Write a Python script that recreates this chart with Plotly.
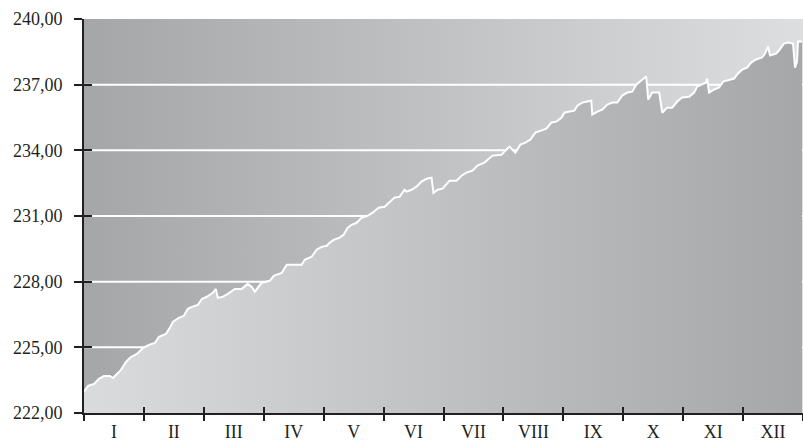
import plotly.graph_objects as go

months = ["I", "II", "III", "IV", "V", "VI", "VII", "VIII", "IX", "X", "XI", "XII"]

# position in months (0 = start of January, 12 = end of December)
t = [0.00, 0.067, 0.167, 0.25, 0.333, 0.433, 0.483, 0.533, 0.617, 0.70, 0.783, 0.883, 0.983,
     1.083, 1.183, 1.25, 1.367, 1.433, 1.483, 1.583, 1.667, 1.733, 1.80, 1.90, 1.967,
     2.05, 2.15, 2.20, 2.233, 2.317, 2.40, 2.517, 2.633, 2.733, 2.80, 2.85, 2.967,
     3.10, 3.167, 3.30, 3.383, 3.517, 3.633, 3.683, 3.80, 3.883, 3.967,
     4.05, 4.10, 4.167, 4.267, 4.333, 4.40, 4.467, 4.55, 4.633, 4.733, 4.817, 4.917,
     5.017, 5.10, 5.183, 5.267, 5.35, 5.383, 5.467, 5.55, 5.633, 5.717, 5.80, 5.833, 5.90, 5.983,
     6.05, 6.10, 6.217, 6.30, 6.383, 6.483, 6.567, 6.683, 6.817, 6.967,
     7.017, 7.10, 7.20, 7.283, 7.367, 7.45, 7.533, 7.633, 7.717, 7.80, 7.883, 7.967,
     8.017, 8.10, 8.183, 8.233, 8.317, 8.40, 8.467, 8.483, 8.567, 8.65, 8.733, 8.817, 8.90, 8.983,
     9.067, 9.15, 9.217, 9.30, 9.383, 9.417, 9.483, 9.60, 9.65, 9.733, 9.817, 9.90, 9.983,
     10.10, 10.183, 10.233, 10.317, 10.383, 10.40, 10.433, 10.517, 10.60, 10.667, 10.75, 10.85, 10.917, 10.983,
     11.067, 11.133, 11.217, 11.317, 11.367, 11.417, 11.45, 11.55, 11.60, 11.683, 11.75, 11.833, 11.867, 11.90, 11.917, 11.983]

values = [222.97, 223.24, 223.33, 223.56, 223.69, 223.69, 223.60, 223.74, 223.97, 224.33, 224.56, 224.70, 224.97,
          225.11, 225.20, 225.48, 225.61, 225.89, 226.16, 226.35, 226.44, 226.76, 226.85, 226.94, 227.21,
          227.31, 227.49, 227.67, 227.26, 227.31, 227.44, 227.67, 227.67, 227.90, 227.76, 227.54, 227.95,
          228.04, 228.27, 228.40, 228.77, 228.77, 228.77, 229.00, 229.14, 229.46, 229.59,
          229.64, 229.78, 229.91, 230.01, 230.14, 230.46, 230.60, 230.69, 230.92, 231.01, 231.15, 231.38,
          231.42, 231.65, 231.84, 231.88, 232.20, 232.11, 232.20, 232.34, 232.57, 232.70, 232.75, 232.06, 232.20, 232.25,
          232.43, 232.61, 232.61, 232.84, 232.98, 233.07, 233.30, 233.44, 233.76, 233.80,
          233.94, 234.17, 233.89, 234.26, 234.35, 234.49, 234.81, 234.90, 234.99, 235.27, 235.31, 235.49,
          235.72, 235.77, 235.81, 236.04, 236.18, 236.23, 236.27, 235.63, 235.77, 235.86, 236.09, 236.18, 236.18, 236.50,
          236.64, 236.68, 237.00, 237.19, 237.37, 236.32, 236.64, 236.64, 235.72, 235.95, 235.95, 236.23, 236.41,
          236.45, 236.64, 236.91, 237.00, 237.10, 237.28, 236.64, 236.78, 236.87, 237.14, 237.19, 237.28, 237.51, 237.69,
          237.78, 238.01, 238.15, 238.24, 238.42, 238.74, 238.33, 238.42, 238.56, 238.88, 238.93, 238.88, 237.78, 238.06, 238.97, 238.97]

y_ticks = [222, 225, 228, 231, 234, 237, 240]
y_range = [222, 240]
x_range = [0, 12]

ink = "#231f20"
font = dict(family="Liberation Serif, Times New Roman, serif", size=18, color=ink)


def fmt(v):
    return f"{v:.2f}".replace(".", ",")


fig = go.Figure()

# upper background (gradient dark -> light)
fig.add_trace(go.Scatter(
    x=x_range, y=[y_range[1]] * 2, mode="none", fill="tozeroy",
    fillgradient=dict(type="horizontal", colorscale=[[0, "#a5a6a8"], [1, "#dddedf"]]),
    hoverinfo="skip", showlegend=False))

# white grid lines (hidden below the data fill)
gx, gy = [], []
for v in y_ticks[1:-1]:
    gx += [x_range[0], x_range[1], None]
    gy += [v, v, None]
fig.add_trace(go.Scatter(x=gx, y=gy, mode="lines", line=dict(color="white", width=2),
                         hoverinfo="skip", showlegend=False))

# data with lower gradient fill (light -> dark)
fig.add_trace(go.Scatter(
    x=t, y=values, mode="lines", line=dict(color="white", width=2),
    fill="tozeroy",
    fillgradient=dict(type="horizontal", colorscale=[[0, "#dadbdd"], [1, "#a6a7a9"]]),
    showlegend=False))

# invisible anchors so the overlay axes (labels, inner tick halves) are drawn
for xa, ya in (("x2", "y"), ("x3", "y"), ("x", "y2")):
    fig.add_trace(go.Scatter(x=x_range, y=y_range, xaxis=xa, yaxis=ya, mode="markers",
                             marker=dict(opacity=0, size=1), hoverinfo="skip",
                             showlegend=False))

common = dict(showgrid=False, zeroline=False, fixedrange=True, automargin=False)

fig.update_layout(
    width=803, height=443,
    margin=dict(l=84, r=0, t=19, b=30, autoexpand=False),
    paper_bgcolor="white", plot_bgcolor="white",
    font=font,
    xaxis=dict(range=x_range, tickvals=list(range(13)), ticks="outside", ticklen=6,
               tickwidth=2, tickcolor=ink, showticklabels=False, showline=True,
               linewidth=2, linecolor=ink, **common),
    xaxis2=dict(overlaying="x", anchor="y", side="bottom", range=x_range,
                tickvals=[i + 0.5 for i in range(12)], ticktext=months, ticks="",
                showline=False, tickfont=font, ticklabelstandoff=6, **common),
    xaxis3=dict(overlaying="x", anchor="y", side="bottom", range=x_range,
                tickvals=list(range(13)), ticks="inside", ticklen=6, tickwidth=2,
                tickcolor=ink, showticklabels=False, showline=False, **common),
    yaxis=dict(range=y_range, tickvals=y_ticks, ticktext=[fmt(v) for v in y_ticks],
               ticks="outside", ticklen=8, tickwidth=2, tickcolor=ink, showline=True,
               linewidth=2, linecolor=ink, tickfont=font, ticklabelstandoff=8, **common),
    yaxis2=dict(overlaying="y", anchor="x", range=y_range, tickvals=y_ticks,
                ticks="inside", ticklen=8, tickwidth=2, tickcolor=ink,
                showticklabels=False, showline=False, **common),
)

fig.write_html(
    "out.html",
    config={"displayModeBar": False},
    post_script="document.body.style.margin='0';document.body.style.overflow='hidden';",
)
